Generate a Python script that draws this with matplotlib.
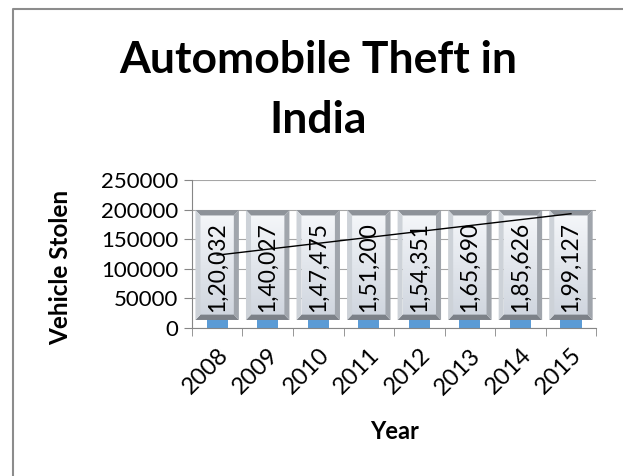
import matplotlib
matplotlib.use("Agg")
import matplotlib.pyplot as plt
import numpy as np
from matplotlib.colors import LinearSegmentedColormap
from matplotlib.lines import Line2D
from matplotlib.patches import Polygon
from matplotlib.ticker import FixedLocator, StrMethodFormatter

# ---------------------------------------------------------------------------
# Data
# ---------------------------------------------------------------------------
years = ["2008", "2009", "2010", "2011", "2012", "2013", "2014", "2015"]
stolen = [120032, 140027, 147475, 151200, 154351, 165690, 185626, 199127]
value_labels = ["1,20,032", "1,40,027", "1,47,475", "1,51,200",
                "1,54,351", "1,65,690", "1,85,626", "1,99,127"]
y_ticks = [0, 50000, 100000, 150000, 200000, 250000]

# ---------------------------------------------------------------------------
# Style
# ---------------------------------------------------------------------------
plt.rcParams["font.family"] = ["Lato", "DejaVu Sans"]
GRID = "#a6a6a6"
BAR = "#5b9bd5"

# label box geometry (Excel-style bevelled data label shapes)
BOX_HALF = 0.43
BOX_LO, BOX_HI = 13500, 199000
BEV_X, BEV_Y = 0.1, 9000

fig = plt.figure(figsize=(6.23, 4.76), dpi=100)
ax = fig.add_axes([0.308, 0.311, 0.649, 0.311])

x = np.arange(len(years))
ax.bar(x, stolen, width=0.42, color=BAR, zorder=2)

face = np.linspace(0, 1, 64).reshape(-1, 1)
face_cmap = LinearSegmentedColormap.from_list("face", ["#d0d6df", "#f4f6f9"])
for xi, lab in zip(x, value_labels):
    x0, x1 = xi - BOX_HALF, xi + BOX_HALF
    ix0, ix1 = x0 + BEV_X, x1 - BEV_X
    iy0, iy1 = BOX_LO + BEV_Y, BOX_HI - BEV_Y
    ax.imshow(face, extent=(ix0, ix1, iy0, iy1), origin="lower",
              cmap=face_cmap, aspect="auto", zorder=3)
    bevels = [
        ([(x0, BOX_HI), (x1, BOX_HI), (ix1, iy1), (ix0, iy1)], "#8d9299"),  # top
        ([(x0, BOX_LO), (ix0, iy0), (ix1, iy0), (x1, BOX_LO)], "#7c8188"),  # bottom
        ([(x0, BOX_LO), (x0, BOX_HI), (ix0, iy1), (ix0, iy0)], "#cdd2d8"),  # left
        ([(x1, BOX_LO), (ix1, iy0), (ix1, iy1), (x1, BOX_HI)], "#a0a5ac"),  # right
    ]
    for pts, col in bevels:
        ax.add_patch(Polygon(pts, closed=True, facecolor=col,
                             edgecolor="none", zorder=3))
    ax.text(xi, (BOX_LO + BOX_HI) / 2 - 3000, lab, rotation=90, ha="center",
            va="center", fontsize=16.5, zorder=4)

# linear trendline
coef = np.polyfit(x, stolen, 1)
ax.plot(x, np.polyval(coef, x), color="black", lw=1, zorder=5)

# axes
ax.set_xlim(-0.5, len(years) - 0.5)
ax.set_ylim(0, 250000)
ax.yaxis.set_major_locator(FixedLocator(y_ticks))
ax.yaxis.set_major_formatter(StrMethodFormatter("{x:.0f}"))
ax.set_xticks(x)
ax.set_xticklabels(years, rotation=45, ha="right", va="top",
                   rotation_mode="anchor")
ax.set_xticks(np.arange(len(years) + 1) - 0.5, minor=True)
ax.grid(axis="y", color=GRID, lw=0.8, zorder=0)
ax.set_axisbelow(True)
for side in ("top", "right"):
    ax.spines[side].set_visible(False)
for side in ("left", "bottom"):
    ax.spines[side].set_color("#868686")
ax.tick_params(axis="y", length=6, color="#868686", labelsize=16, pad=4)
ax.tick_params(axis="x", which="major", length=0, labelsize=17, pad=12)
ax.tick_params(axis="x", which="minor", length=6, color="#868686")

ax.set_ylabel("Vehicle Stolen", fontsize=17.5, fontweight="bold")
ax.yaxis.set_label_coords(-0.295, 0.41)
ax.set_xlabel("Year", fontsize=17, fontweight="bold", va="top")
ax.xaxis.set_label_coords(0.5, -0.62)

# title
fig.text(318 / 623, 1 - 133 / 476, "Automobile Theft in\nIndia",
         ha="center", va="baseline", fontsize=32, fontweight="bold",
         linespacing=1.6, multialignment="center")

# chart area border (left and top edges only are visible)
bx, by = 12.5 / 623, 1 - 8.5 / 476
fig.add_artist(Line2D([bx, bx, 1], [0, by, by], transform=fig.transFigure,
                      color="#8c8c8c", lw=1.5))

fig.savefig("out.png", dpi=100)
